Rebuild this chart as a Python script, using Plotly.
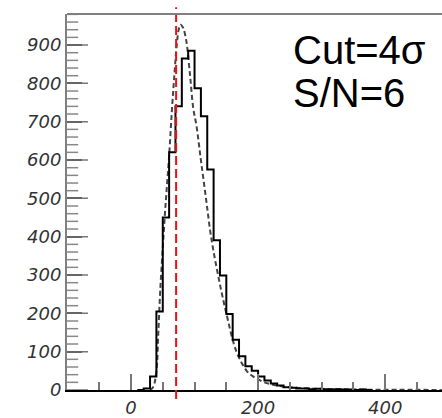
import plotly.graph_objects as go

# Histogram (bin width 10)
bin_left = [10, 20, 30, 40, 50, 60, 70, 80, 90, 100, 110, 120, 130, 140, 150, 160,
            170, 180, 190, 200, 210, 220, 230, 240, 250, 260, 270, 280, 290, 300,
            310, 320, 330, 340, 350, 360, 370]
counts = [0, 4, 35, 205, 450, 620, 740, 865, 885, 787, 714, 575, 391, 299, 198, 131,
          88, 62, 50, 35, 25, 17, 12, 7, 6, 4, 4, 2, 3, 2, 1, 2, 1, 1, 0, 1, 0]
bin_width = 10

# Fitted curve (dashed)
fit_x = [30, 35, 40, 43, 46, 50, 53, 56, 60, 64, 68, 72, 75, 78, 82, 85, 88, 93, 98,
         103, 110, 118, 126, 137, 150, 166, 182, 190, 200, 210, 225, 240, 260, 280,
         300, 330, 370, 420, 489]
fit_y = [0, 8, 50, 150, 260, 370, 450, 520, 610, 720, 816, 900, 940, 953, 945, 928,
         900, 820, 735, 690, 600, 500, 400, 300, 200, 100, 50, 38, 28, 20, 13, 9, 6, 4,
         3, 2, 1, 0.5, 0.3]

cut_x = 71
x_ticks = [0, 200, 400]
y_ticks = [0, 100, 200, 300, 400, 500, 600, 700, 800, 900]
y_minor_step = 20
x_range = [-100.7, 489.4]
y_range = [0, 981]

hx = bin_left + [bin_left[-1] + bin_width]
hy = counts + [counts[-1]]
y_minor = [v for v in range(0, int(y_range[1]), y_minor_step) if v not in y_ticks]

fig = go.Figure()
fig.add_trace(go.Scatter(x=fit_x, y=fit_y, mode="lines",
                         line=dict(color="#444444", width=2, dash="5px,3px", shape="spline"),
                         showlegend=False))
fig.add_trace(go.Scatter(x=hx, y=hy, mode="lines",
                         line=dict(color="black", width=2, shape="hv"),
                         showlegend=False))
# y-axis tick marks (inside), drawn as clipped line markers on the left axis edge
fig.add_trace(go.Scatter(x=[x_range[0]] * len(y_ticks), y=y_ticks, mode="markers",
                         marker=dict(symbol="line-ew", size=30,
                                     line=dict(width=1.5, color="#777777")),
                         cliponaxis=True, hoverinfo="skip", showlegend=False))
fig.add_trace(go.Scatter(x=[x_range[0]] * len(y_minor), y=y_minor, mode="markers",
                         marker=dict(symbol="line-ew", size=16,
                                     line=dict(width=1.5, color="#888888")),
                         cliponaxis=True, hoverinfo="skip", showlegend=False))

fig.add_shape(type="line", xref="x", yref="paper", x0=cut_x, x1=cut_x, y0=-0.024, y1=1.018,
              line=dict(color="#ee1111", width=2, dash="9px,4px"), layer="above")
fig.add_shape(type="line", xref="paper", yref="paper", x0=0, x1=1, y0=1, y1=1,
              line=dict(color="#808080", width=2))

fig.add_annotation(text="Cut=4σ", xref="paper", yref="paper", x=0.596, y=0.905,
                   xanchor="left", yanchor="middle", showarrow=False,
                   font=dict(family="Liberation Sans", size=40, color="black"))
fig.add_annotation(text="S/N=6", xref="paper", yref="paper", x=0.596, y=0.791,
                   xanchor="left", yanchor="middle", showarrow=False,
                   font=dict(family="Liberation Sans", size=40, color="black"))

tickfont = dict(family="DejaVu Sans", size=18, color="#333333", style="italic")

fig.update_layout(
    width=442, height=418, margin=dict(l=67, r=0, t=14, b=24),
    plot_bgcolor="white", paper_bgcolor="white",
    xaxis=dict(range=x_range, tickmode="array", tickvals=x_ticks,
               ticks="inside", ticklen=16, tickcolor="#777777", tickwidth=1.5,
               showgrid=False, zeroline=False, showline=True, linecolor="black",
               linewidth=2, tickfont=tickfont,
               minor=dict(tickmode="linear", dtick=50, tick0=0, ticks="inside", ticklen=8,
                          tickcolor="#777777", tickwidth=1.5, showgrid=False)),
    yaxis=dict(range=y_range, tickmode="array", tickvals=y_ticks,
               ticks="inside", ticklen=15, tickcolor="#666666", tickwidth=1.5,
               showgrid=False, zeroline=False, showline=True, linecolor="#808080",
               linewidth=2, tickfont=tickfont),
)

fig.write_html("out.html")
